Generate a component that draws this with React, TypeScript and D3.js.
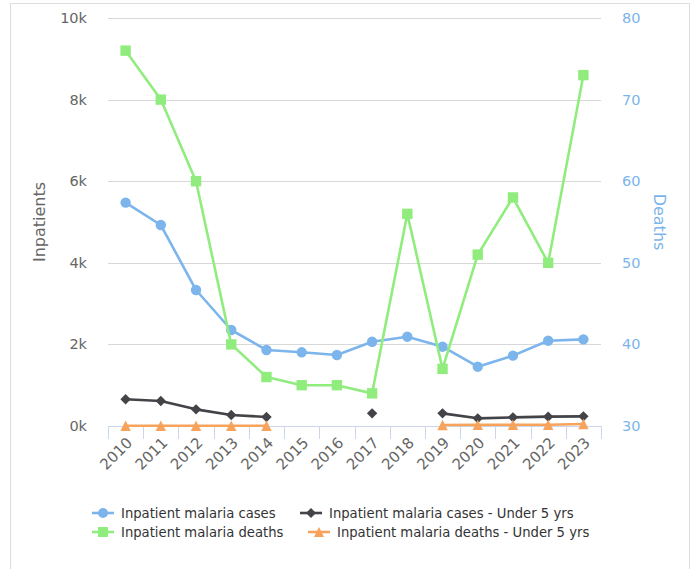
import React from "react";
import * as d3 from "d3";

const years = ["2010","2011","2012","2013","2014","2015","2016","2017","2018","2019","2020","2021","2022","2023"];
const casesAll: (number | null)[] = [5475, 4926, 3333, 2353, 1863, 1806, 1740, 2066, 2189, 1944, 1454, 1724, 2091, 2124];
const casesUnder5: (number | null)[] = [654, 613, 408, 270, 220, null, null, 310, null, 310, 188, 212, 229, 237];
const deathsAll: (number | null)[] = [76, 70, 60, 40, 36, 35, 35, 34, 56, 37, 51, 58, 50, 73];
const deathsUnder5: (number | null)[] = [5, 5, 5, 5, 5, null, null, null, null, 25, 28, 30, 32, 48];
const leftTicks = [0, 2000, 4000, 6000, 8000, 10000];
const rightTicks = [30, 40, 50, 60, 70, 80];

const FONT = "DejaVu Sans, sans-serif";
const W = 696, H = 569;
const PL = 108, PR = 601, PT = 18, PB = 426;

type Sym = "circle" | "diamond" | "square" | "triangle";
function symbolPath(s: Sym, x: number, y: number, r: number): string {
  if (s === "circle") return `M${x - r},${y}a${r},${r} 0 1,0 ${2 * r},0a${r},${r} 0 1,0 ${-2 * r},0Z`;
  if (s === "square") return `M${x - r},${y - r}h${2 * r}v${2 * r}h${-2 * r}Z`;
  if (s === "diamond") return `M${x},${y - r}L${x + r},${y}L${x},${y + r}L${x - r},${y}Z`;
  return `M${x},${y - r}L${x + r},${y + r}L${x - r},${y + r}Z`;
}

export default function App() {
  const x = d3.scaleBand<string>().domain(years).range([PL, PR]);
  const yL = d3.scaleLinear().domain([0, 10000]).range([PB, PT]);
  const yR = d3.scaleLinear().domain([30, 80]).range([PB, PT]);
  const cx = (y: string) => (x(y) as number) + x.bandwidth() / 2;

  const series = [
    { name: "Inpatient malaria cases", data: casesAll, color: "#7cb5ec", sym: "circle" as Sym, scale: yL },
    { name: "Inpatient malaria cases - Under 5 yrs", data: casesUnder5, color: "#434348", sym: "diamond" as Sym, scale: yL },
    { name: "Inpatient malaria deaths", data: deathsAll, color: "#90ed7d", sym: "square" as Sym, scale: yR },
    { name: "Inpatient malaria deaths - Under 5 yrs", data: deathsUnder5, color: "#f7a35c", sym: "triangle" as Sym, scale: yL },
  ];

  const legendPos = [
    { x: 92, y: 513, tx: 121 },
    { x: 300, y: 513, tx: 329 },
    { x: 92, y: 532, tx: 121 },
    { x: 308, y: 532, tx: 337 },
  ];

  const tickXs = years.map((y) => x(y) as number).concat([PR]);

  return (
    <svg width={W} height={H} style={{ position: "fixed", left: 0, top: 0, background: "#fff" }} fontFamily={FONT}>
      <rect x={10.5} y={3.5} width={679} height={620} fill="#fff" stroke="#dddddd" strokeWidth={1} />
      {leftTicks.map((t) => (
        <line key={"g" + t} x1={PL} x2={PR} y1={Math.round(yL(t)) + 0.5} y2={Math.round(yL(t)) + 0.5} stroke="#d8d8d8" strokeWidth={1} />
      ))}
      {/* x axis */}
      <line x1={PL} x2={PR} y1={PB + 0.5} y2={PB + 0.5} stroke="#ccd6eb" strokeWidth={1} />
      {tickXs.map((t, i) => (
        <line key={"t" + i} x1={Math.round(t) + 0.5} x2={Math.round(t) + 0.5} y1={PB} y2={PB + 13} stroke="#ccd6eb" strokeWidth={1} />
      ))}
      {years.map((y) => (
        <text key={"xl" + y} transform={`translate(${cx(y) + 4},${PB + 14}) rotate(-45)`} textAnchor="end" fontSize={15} fill="#666666" dy="0.35em">
          {y}
        </text>
      ))}
      {leftTicks.map((t) => (
        <text key={"yl" + t} x={87} y={yL(t)} dy="0.35em" textAnchor="end" fontSize={14.5} fill="#666666">
          {t / 1000 + "k"}
        </text>
      ))}
      {rightTicks.map((t) => (
        <text key={"yr" + t} x={622} y={yR(t)} dy="0.35em" textAnchor="start" fontSize={14.5} fill="#7cb5ec">
          {t}
        </text>
      ))}
      <text transform={`translate(39,${(PT + PB) / 2}) rotate(-90)`} textAnchor="middle" dy="0.35em" fontSize={16} fill="#666666">
        Inpatients
      </text>
      <text transform={`translate(660,${(PT + PB) / 2}) rotate(90)`} textAnchor="middle" dy="0.35em" fontSize={16} fill="#7cb5ec">
        Deaths
      </text>

      {series.map((s, si) => {
        const line = d3
          .line<number | null>()
          .defined((d) => d != null)
          .x((_, i) => cx(years[i]))
          .y((d) => s.scale(d as number));
        return (
          <g key={"s" + si}>
            <path d={line(s.data) || ""} fill="none" stroke={s.color} strokeWidth={2.6} strokeLinejoin="round" strokeLinecap="round" />
            {s.data.map((d, i) =>
              d == null ? null : <path key={i} d={symbolPath(s.sym, cx(years[i]), s.scale(d), 5.2)} fill={s.color} />
            )}
          </g>
        );
      })}

      {series.map((s, si) => {
        const p = legendPos[si];
        return (
          <g key={"lg" + si}>
            <line x1={p.x} x2={p.x + 22} y1={p.y} y2={p.y} stroke={s.color} strokeWidth={2.6} />
            <path d={symbolPath(s.sym, p.x + 11, p.y, 5)} fill={s.color} />
            <text x={p.tx} y={p.y} dy="0.35em" fontSize={13.2} fill="#333333">
              {s.name}
            </text>
          </g>
        );
      })}
    </svg>
  );
}
